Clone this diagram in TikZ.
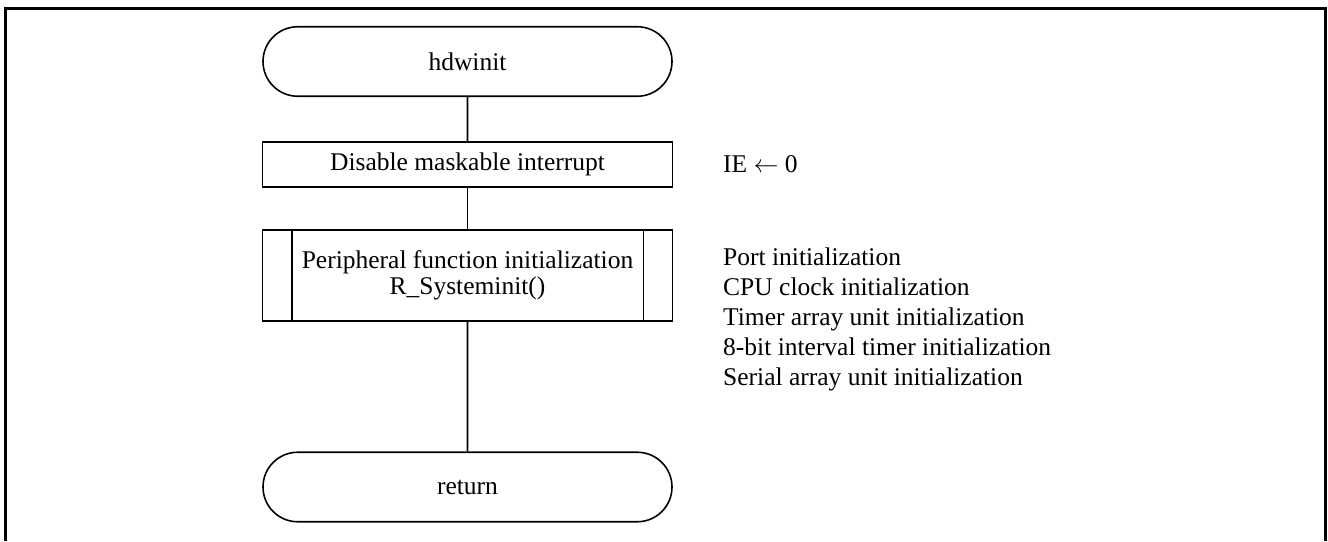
\documentclass[tikz,border=0pt]{standalone}
\usepackage{fontspec}
\setmainfont{Liberation Serif}
\usetikzlibrary{shapes.misc,calc}
\begin{document}
\begin{tikzpicture}[x=1pt,y=-1pt,
  every node/.style={font=\fontsize{25.5}{29.3}\selectfont},
  term/.style={draw,line width=1.6pt,rounded rectangle,minimum width=409pt,minimum height=69.5pt,inner sep=0pt},
  proc/.style={draw,line width=1.6pt,rectangle,minimum width=410pt,minimum height=45pt,inner sep=0pt},
  subr/.style={draw,line width=1.6pt,rectangle,minimum width=410pt,minimum height=91pt,inner sep=0pt,align=center,font=\fontsize{25.5}{25.5}\selectfont},
  conn/.style={line width=1.6pt},
  note/.style={inner sep=0pt,align=left,font=\fontsize{25.5}{30}\selectfont},
  frameline/.style={line width=3pt}]
\useasboundingbox (0,0) rectangle (1328,541);
\draw[frameline] (5,541) -- (5,8.5) -- (1325,8.5) -- (1325,541);
\node[term] (start) at (467.5,61.5) {hdwinit};
\node[proc] (dis) at (467.5,164.5) {Disable maskable interrupt};
\node[subr] (sys) at (467.5,275.5) {Peripheral function initialization\\R\_Systeminit()};
\node[term] (ret) at (467.5,487) {return};
\draw[conn] (start) -- (dis);
\draw[conn] (dis) -- (sys);
\draw[conn] (sys) -- (ret);
\draw[conn] ($(sys.north west)+(30,0)$) -- ($(sys.south west)+(30,0)$);
\draw[conn] ($(sys.north east)+(-30,0)$) -- ($(sys.south east)+(-30,0)$);
\node[note,anchor=west] (ie) at (723,164.5) {IE \(\leftarrow\) 0};
\node[note,anchor=north west] (notes) at (723,247.5) {Port initialization\\CPU clock initialization\\Timer array unit initialization\\8-bit interval timer initialization\\Serial array unit initialization};
\end{tikzpicture}
\end{document}
